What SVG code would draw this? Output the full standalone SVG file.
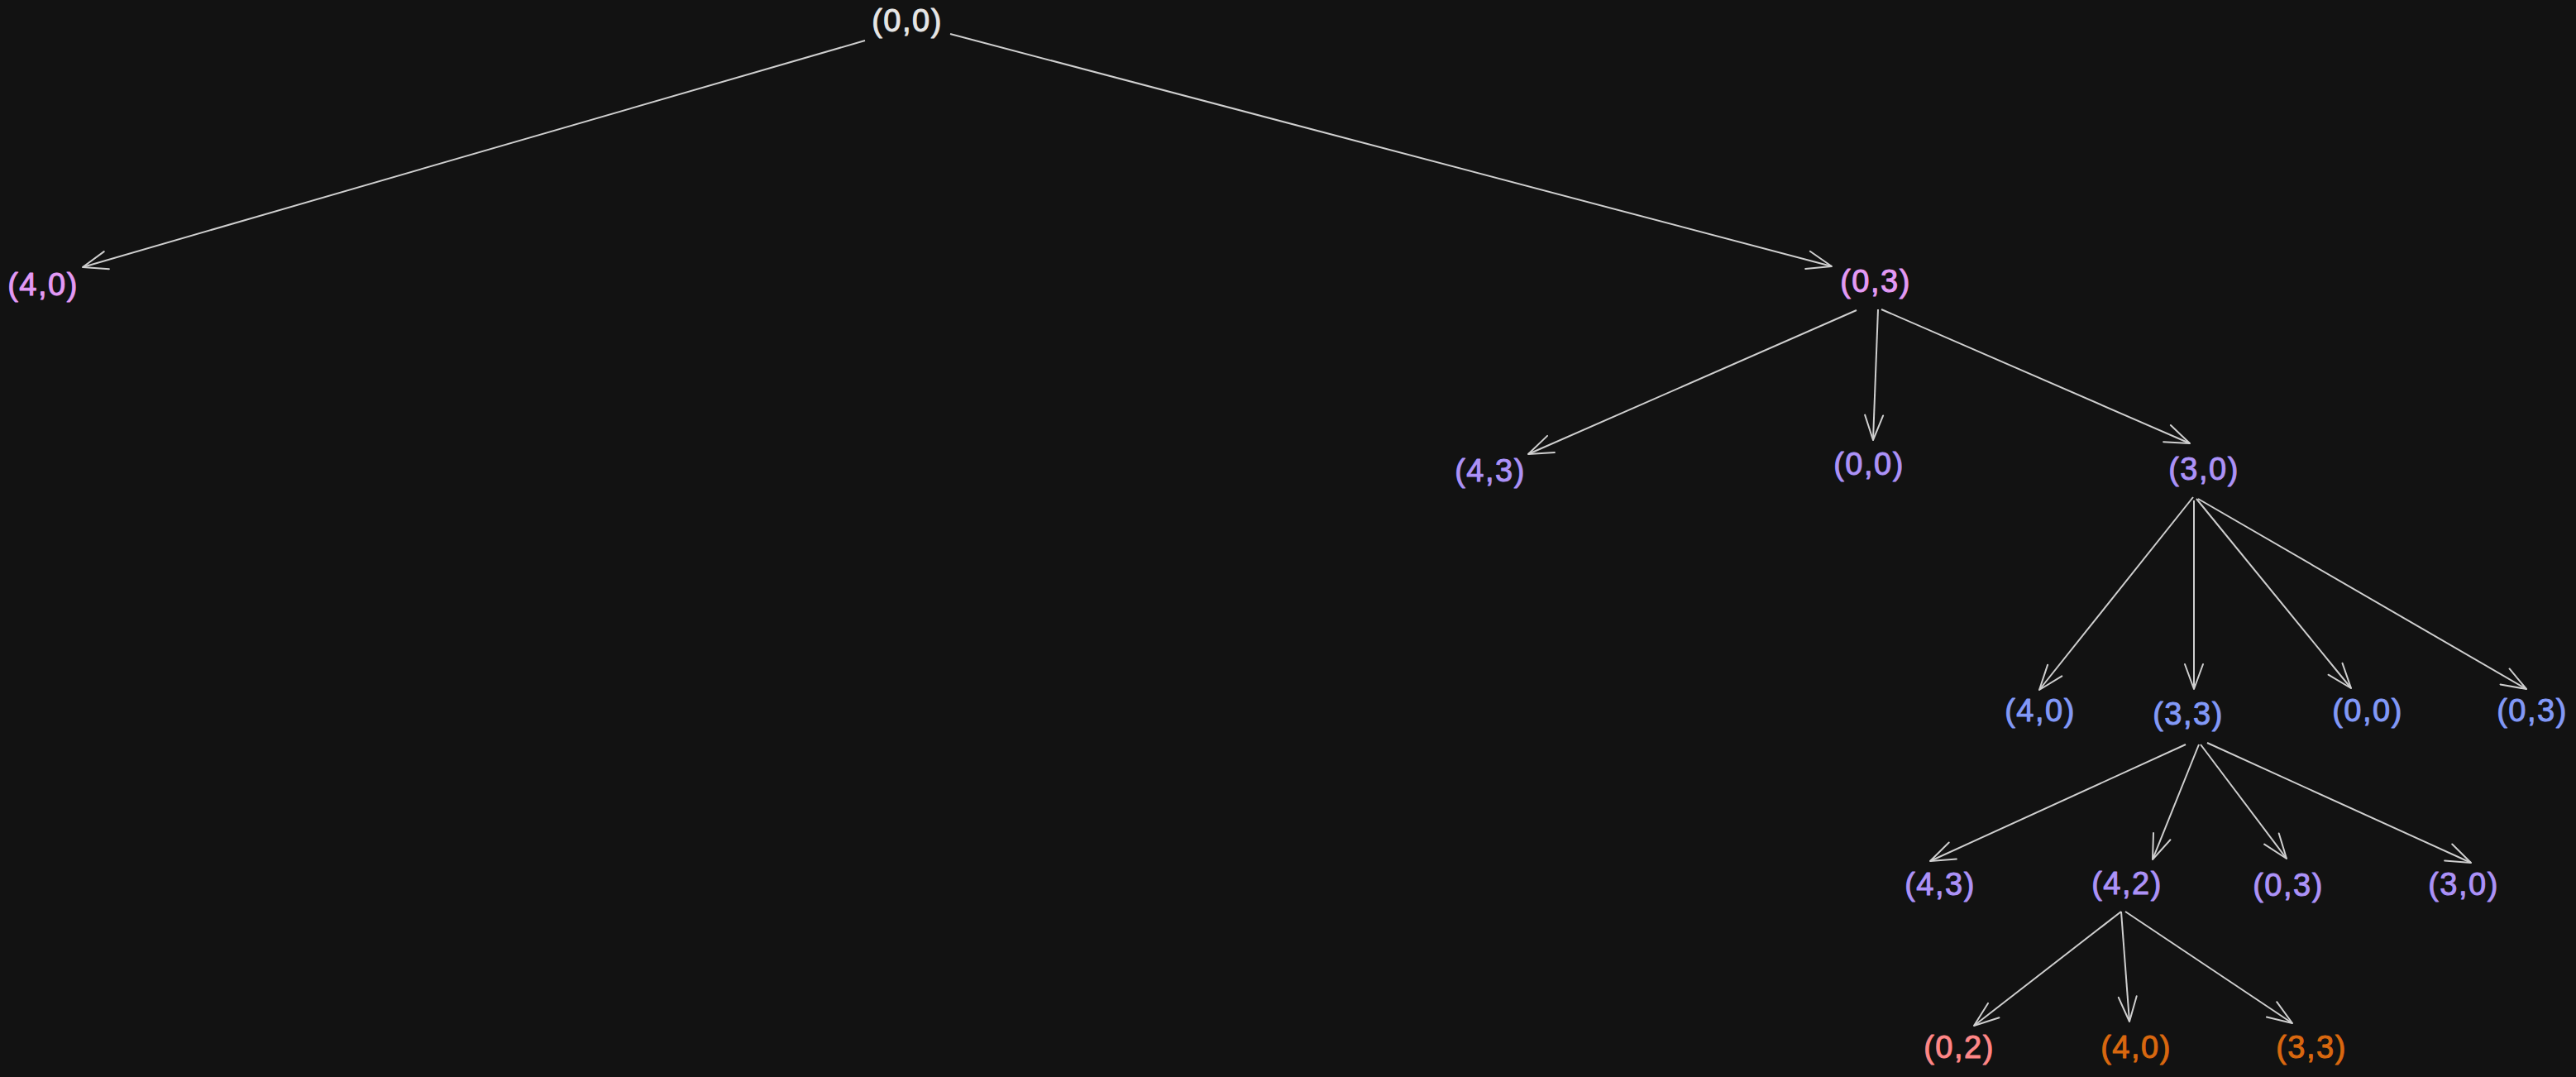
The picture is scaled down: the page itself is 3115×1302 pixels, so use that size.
<svg xmlns="http://www.w3.org/2000/svg" width="3115" height="1302" viewBox="0 0 3115 1302">
<style>
.t{font-family:"Liberation Sans",Arial,sans-serif;font-size:38px;text-anchor:middle;letter-spacing:1.5px;stroke-width:1;stroke-linejoin:round}
.w{fill:#e6e6e6;stroke:#e6e6e6}.p{fill:#e39af5;stroke:#e39af5}.v{fill:#ac92f8;stroke:#ac92f8}.b{fill:#8299f7;stroke:#8299f7}.r{fill:#ff8787;stroke:#ff8787}.o{fill:#d9680f;stroke:#d9680f}
.e line{stroke:#cfcfcf;stroke-width:2;fill:none;marker-end:url(#ah)}
</style>
<defs>
<marker id="ah" markerUnits="userSpaceOnUse" viewBox="-40 -20 50 40" refX="0" refY="0" markerWidth="50" markerHeight="40" orient="auto" overflow="visible">
<path d="M-30,-11 L0,0 L-30,11" fill="none" stroke="#cfcfcf" stroke-width="2" stroke-linecap="round" stroke-linejoin="round"/>
</marker>
</defs>
<rect width="3115" height="1302" fill="#121212"/>
<g class="e" id="connectors">
<line x1="1046" y1="49" x2="100" y2="323"/>
<line x1="1149" y1="41" x2="2215" y2="322"/>
<line x1="2245" y1="375" x2="1848" y2="549"/>
<line x1="2271" y1="374" x2="2265" y2="532"/>
<line x1="2275" y1="374" x2="2648" y2="536"/>
<line x1="2652" y1="601" x2="2466" y2="834"/>
<line x1="2653" y1="605" x2="2653" y2="833"/>
<line x1="2656" y1="603" x2="2843" y2="832"/>
<line x1="2658" y1="603" x2="3055" y2="833"/>
<line x1="2643" y1="900" x2="2334" y2="1041"/>
<line x1="2659" y1="900" x2="2603" y2="1039"/>
<line x1="2661" y1="900" x2="2765" y2="1038"/>
<line x1="2669" y1="898" x2="2988" y2="1043"/>
<line x1="2565" y1="1102" x2="2387" y2="1240"/>
<line x1="2565" y1="1102" x2="2575" y2="1235"/>
<line x1="2570" y1="1102" x2="2772" y2="1237"/>
</g>
<g id="n0"><text class="t w" x="1097" y="38">(0,0)</text></g>
<g id="n1"><text class="t p" x="52" y="357">(4,0)</text></g>
<g id="n2"><text class="t p" x="2268" y="353">(0,3)</text></g>
<g id="n3"><text class="t v" x="1802" y="582">(4,3)</text></g>
<g id="n4"><text class="t v" x="2260" y="574">(0,0)</text></g>
<g id="n5"><text class="t v" x="2665" y="580">(3,0)</text></g>
<g id="n6"><text class="t b" x="2467" y="872">(4,0)</text></g>
<g id="n7"><text class="t b" x="2646" y="876">(3,3)</text></g>
<g id="n8"><text class="t b" x="2863" y="872">(0,0)</text></g>
<g id="n9"><text class="t b" x="3062" y="872">(0,3)</text></g>
<g id="n10"><text class="t v" x="2346" y="1082">(4,3)</text></g>
<g id="n11"><text class="t v" x="2572" y="1081">(4,2)</text></g>
<g id="n12"><text class="t v" x="2767" y="1083">(0,3)</text></g>
<g id="n13"><text class="t v" x="2979" y="1082">(3,0)</text></g>
<g id="n14"><text class="t r" x="2369" y="1279">(0,2)</text></g>
<g id="n15"><text class="t o" x="2583" y="1279">(4,0)</text></g>
<g id="n16"><text class="t o" x="2795" y="1279">(3,3)</text></g>
</svg>
